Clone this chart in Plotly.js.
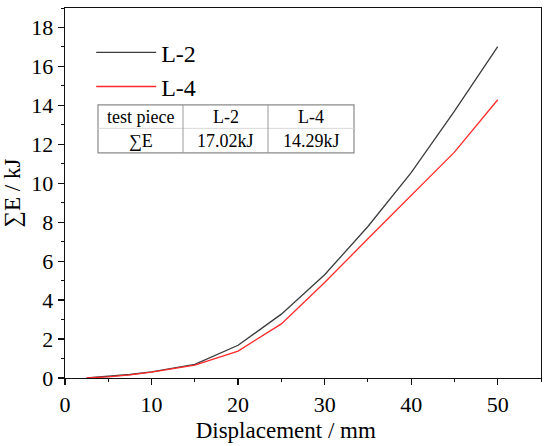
<!DOCTYPE html>
<html>
<head>
<meta charset="utf-8">
<script src="https://cdn.plot.ly/plotly-3.0.1.min.js"></script>
<style>
html,body{margin:0;padding:0;background:#fff;}
#chart{width:550px;height:446px;}
</style>
</head>
<body>
<div id="chart"></div>
<script>
var displacement = [2.5, 5, 7.5, 10, 15, 20, 25, 30, 35, 40, 45, 50];
var energyL2 = [0, 0.08, 0.18, 0.32, 0.7, 1.68, 3.28, 5.3, 7.78, 10.55, 13.7, 17.02];
var energyL4 = [0, 0.06, 0.16, 0.3, 0.66, 1.38, 2.78, 4.9, 7.15, 9.35, 11.6, 14.29];
var seriesNames = ["L-2", "L-4"];
var tableHeader = ["test piece", "L-2", "L-4"];
var tableRow = ["\u2211E", "17.02kJ", "14.29kJ"];

var serif = "serif";
var ink = "#000000";

var traces = [
  {x: displacement, y: energyL2, name: seriesNames[0], mode: "lines",
   line: {color: "#3c3c3c", width: 1.3}},
  {x: displacement, y: energyL4, name: seriesNames[1], mode: "lines",
   line: {color: "#ff2a2a", width: 1.3}}
];

var L = 65, R = 541, T = 8, B = 378.5;
function px(x){ return (x - L) / (R - L); }
function py(y){ return (B - y) / (B - T); }
var colX = [98, 183, 268, 354];
var rowY = [105, 128.5, 153];

var shapes = [];
shapes.push({type: "rect", xref: "paper", yref: "paper", x0: px(colX[0]), x1: px(colX[3]), y0: py(rowY[2]), y1: py(rowY[0]), line: {color: "#8a8a8a", width: 1.2}, fillcolor: "rgba(255,255,255,1)", layer: "above"});
shapes.push({type: "line", xref: "paper", yref: "paper", x0: px(colX[0]), x1: px(colX[3]), y0: py(rowY[1]), y1: py(rowY[1]), line: {color: "#d8d8d8", width: 1}, layer: "above"});
for (var i = 1; i < 3; i++) {
  shapes.push({type: "line", xref: "paper", yref: "paper", x0: px(colX[i]), x1: px(colX[i]), y0: py(rowY[2]), y1: py(rowY[0]), line: {color: "#9a9a9a", width: 1}, layer: "above"});
}
var annotations = [];
for (var j = 0; j < 3; j++) {
  var cx = (colX[j] + colX[j+1]) / 2;
  annotations.push({xref: "paper", yref: "paper", x: px(cx), y: py((rowY[0] + rowY[1]) / 2), text: tableHeader[j], showarrow: false, font: {family: serif, size: 18, color: ink}, xanchor: "center", yanchor: "middle"});
  annotations.push({xref: "paper", yref: "paper", x: px(cx), y: py((rowY[1] + rowY[2]) / 2), text: tableRow[j], showarrow: false, font: {family: serif, size: 18, color: ink}, xanchor: "center", yanchor: "middle"});
}

var layout = {
  width: 550, height: 446,
  margin: {l: 65, r: 9, t: 8, b: 67.5},
  paper_bgcolor: "#fff", plot_bgcolor: "#fff",
  font: {family: serif, color: ink},
  showlegend: true,
  legend: {x: 0.055, y: 0.94, xanchor: "left", yanchor: "top", bgcolor: "rgba(0,0,0,0)", font: {family: serif, size: 24, color: ink}, tracegroupgap: 0, itemwidth: 60},
  xaxis: {
    range: [0, 55], dtick: 10, tick0: 0,
    showgrid: false, zeroline: false,
    showline: true, linecolor: "#111", linewidth: 1.3, mirror: true,
    ticks: "outside", ticklen: 6, tickwidth: 1.3, tickcolor: "#111",
    minor: {dtick: 5, ticks: "outside", ticklen: 3, tickwidth: 1, tickcolor: "#111"},
    tickfont: {family: serif, size: 22, color: ink},
    title: {text: "Displacement / mm&nbsp;&nbsp;&nbsp;&nbsp;&nbsp;&nbsp;", font: {family: serif, size: 23, color: ink}, standoff: 6}
  },
  yaxis: {
    range: [0, 19], dtick: 2, tick0: 0,
    showgrid: false, zeroline: false,
    showline: true, linecolor: "#111", linewidth: 1.3, mirror: true,
    ticks: "outside", ticklen: 6, tickwidth: 1.3, tickcolor: "#111",
    minor: {dtick: 1, ticks: "outside", ticklen: 3, tickwidth: 1, tickcolor: "#111"},
    tickfont: {family: serif, size: 22, color: ink},
    title: {text: "\u2211E / kJ", font: {family: serif, size: 23, color: ink}, standoff: 6}
  },
  shapes: shapes,
  annotations: annotations
};

Plotly.newPlot("chart", traces, layout, {displayModeBar: false, staticPlot: true});
</script>
</body>
</html>
